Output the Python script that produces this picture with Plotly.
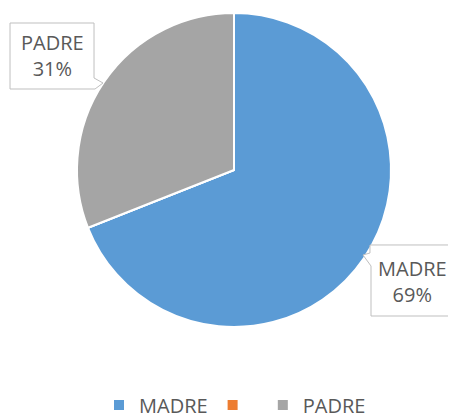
import plotly.graph_objects as go

labels = ["MADRE", " ", "PADRE"]
values = [69, 0, 31]
colors = ["#5B9BD5", "#ED7D31", "#A5A5A5"]
pcts = ["69%", "", "31%"]

OFF = 8  # page body margin
W, H = 456 - OFF, 419 - OFF


def px(x):
    return (x - OFF) / W


def py(y):
    return 1 - (y - OFF) / H


fig = go.Figure()
fig.add_trace(
    go.Pie(
        labels=labels,
        values=values,
        sort=False,
        direction="clockwise",
        rotation=0,
        marker=dict(colors=colors, line=dict(color="white", width=2)),
        textinfo="none",
        hoverinfo="label+percent",
        domain=dict(x=[px(77), px(391)], y=[py(327), py(13)]),
    )
)

# callout boxes (page pixel outlines) and their text centres
callouts = {
    "MADRE": dict(
        pts=[(370, 245), (454, 245), (454, 316), (371, 316), (371, 266), (363, 255), (370, 253)],
        centre=(412, 281),
    ),
    "PADRE": dict(
        pts=[(10, 23), (94, 23), (94, 78), (103, 83), (95, 89), (10, 89)],
        centre=(52, 56),
    ),
}

for lab, pct in zip(labels, pcts):
    if lab not in callouts:
        continue
    c = callouts[lab]
    path = "M " + " L ".join(f"{px(x):.4f},{py(y):.4f}" for x, y in c["pts"]) + " Z"
    fig.add_shape(
        type="path",
        path=path,
        xref="paper",
        yref="paper",
        fillcolor="white",
        line=dict(color="#BFBFBF", width=1),
        layer="above",
    )
    fig.add_annotation(
        x=px(c["centre"][0]),
        y=py(c["centre"][1]),
        xref="paper",
        yref="paper",
        xanchor="center",
        yanchor="middle",
        text=f"{lab}<br>{pct}",
        showarrow=False,
        font=dict(family="Open Sans", size=20, color="#595959"),
        align="center",
    )

fig.update_layout(
    width=W,
    height=H,
    margin=dict(l=0, r=0, t=0, b=0, autoexpand=False),
    paper_bgcolor="white",
    plot_bgcolor="white",
    showlegend=True,
    legend=dict(
        orientation="h",
        x=px(235),
        xanchor="center",
        y=py(405),
        yanchor="middle",
        font=dict(family="Open Sans", size=20, color="#595959"),
        traceorder="normal",
    ),
)

fig.write_html("out.html")
